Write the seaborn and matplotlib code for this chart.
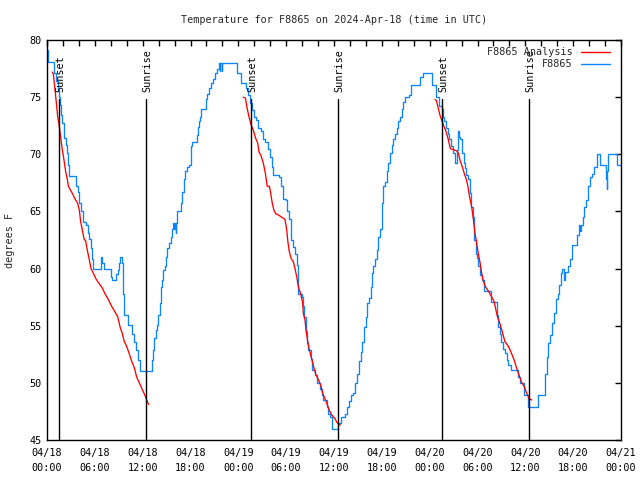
import matplotlib
matplotlib.use("Agg")
import matplotlib.pyplot as plt
import matplotlib.dates as mdates
import matplotlib.transforms as mtransforms
import seaborn as sns
import pandas as pd
import numpy as np

# ---------------- data (hours after 2024-04-18 00:00 UTC) ----------------
title = "Temperature for F8865 on 2024-Apr-18 (time in UTC)"
ylabel = "degrees F"
obs_label = "F8865"
ana_label = "F8865 Analysis"

obs_hours = [0.15, 0.17, 0.85, 0.92, 1.13, 1.38, 1.50, 1.63, 1.76, 1.92, 2.13, 2.34, 2.55, 2.68, 2.80,
             3.64, 3.93, 4.06, 4.27, 4.56, 4.85, 5.10, 5.31, 5.48, 5.60, 5.81, 6.77, 6.94, 7.15, 7.99,
             8.20, 8.70, 8.87, 9.00, 9.16, 9.37, 9.58, 9.70, 10.2, 10.7, 10.96, 11.12, 11.46, 11.67,
             13.2, 13.34, 13.47, 13.63, 13.76, 13.97, 14.17, 14.30, 14.47, 14.59, 14.76, 14.93, 15.10,
             15.30, 15.51, 15.72, 15.84, 15.97, 16.05, 16.14, 16.22, 16.35, 16.77, 16.97, 17.14, 17.35,
             17.52, 17.85, 18.02, 18.14, 18.77, 18.90, 19.07, 19.19, 19.36, 19.95, 20.11, 20.28, 20.53,
             20.78, 21.07, 21.36, 21.57, 21.65, 21.75, 21.90, 22.0, 23.85, 24.3, 24.96, 25.17, 25.46,
             25.76, 26.0, 26.22, 26.51, 26.80, 27.05, 27.34, 27.76, 27.97, 28.18, 28.39, 29.10, 29.31,
             29.65, 29.94, 30.15, 30.40, 30.61, 30.90, 31.11, 31.40, 31.53, 31.94, 32.15, 32.28, 32.45,
             32.57, 32.78, 33.12, 33.28, 33.61, 33.82, 34.24, 34.45, 34.66, 35.08, 35.3, 35.5, 35.8,
             36.55, 36.9, 37.09, 37.38, 37.59, 37.88, 38.09, 38.43, 38.63, 38.84, 39.14, 39.35, 39.55,
             39.76, 40.02, 40.18, 40.39, 40.60, 40.73, 40.93, 41.14, 41.35, 41.56, 41.77, 41.98, 42.06,
             42.19, 42.40, 42.61, 42.82, 43.03, 43.24, 43.45, 43.67, 43.87, 44.08, 44.29, 44.50, 44.70,
             44.91, 45.46, 45.62, 46.8, 47.21, 48.3, 48.75, 49.17, 49.5, 49.63, 49.84, 50.0, 50.26,
             50.46, 50.68, 50.89, 51.18, 51.39, 51.55, 51.65, 51.8, 52.0, 52.3, 52.4, 52.6, 52.8, 53.0,
             53.2, 53.4, 53.6, 53.76, 53.97, 54.1, 54.3, 54.6, 54.86, 55.7, 56.4, 56.6, 56.8, 57.0,
             57.24, 57.45, 57.66, 57.87, 58.2, 59.04, 59.33, 59.84, 60.38, 61.63, 62.47, 62.7, 62.9,
             63.1, 63.4, 63.6, 63.85, 64.06, 64.27, 64.44, 64.64, 64.85, 64.95, 65.4, 65.6, 65.81,
             66.5, 66.7, 66.85, 66.95, 67.2, 67.4, 67.6, 67.9, 68.1, 68.4, 68.6, 68.95, 69.4, 70.1,
             70.2, 70.3, 70.4, 71.45, 72.0]
obs_temp = [79.1, 78.1, 77.3, 77.1, 76.4, 75.6, 75.0, 74.3, 73.4, 72.7, 71.4, 70.8, 70.1, 69.1, 68.1,
            67.2, 66.7, 65.7, 65.0, 64.1, 63.8, 63.1, 62.6, 61.8, 60.8, 60.0, 61.0, 60.5, 60.0, 59.3,
            59.0, 59.5, 59.9, 60.5, 61.0, 60.5, 57.8, 55.9, 55.1, 54.3, 53.6, 52.9, 52.0, 51.0,
            52.0, 52.9, 53.9, 54.6, 55.1, 55.9, 57.0, 58.4, 59.0, 59.9, 60.2, 61.0, 61.8,
            62.2, 62.8, 63.5, 64.0, 63.5, 64.0, 63.1, 64.0, 65.0, 65.7, 66.7, 67.8, 68.5,
            68.9, 69.1, 70.7, 71.1, 71.7, 72.4, 72.9, 73.3, 74.0, 74.8, 75.3, 75.8, 76.2,
            76.6, 77.1, 77.5, 78.0, 77.3, 78.0, 77.3, 78.0, 77.1, 76.2, 75.8, 75.2, 74.5,
            73.9, 73.3, 73.0, 72.3, 72.0, 71.3, 71.1, 70.5, 69.8, 68.9, 68.2, 68.0, 67.2,
            66.1, 66.0, 65.0, 64.3, 62.5, 61.9, 61.3, 60.3, 57.8, 57.5, 56.7, 55.8, 54.5,
            53.5, 52.9, 52.1, 51.1, 50.7, 50.0, 49.5, 48.9, 48.5, 47.9, 47.3, 47.0, 46.0,
            46.5, 47.0, 47.0, 47.3, 47.9, 48.4, 48.9, 49.1, 50.0, 50.8, 51.9, 52.7, 53.6,
            54.9, 55.8, 57.0, 57.4, 58.4, 59.6, 60.2, 60.8, 61.6, 62.8, 63.5, 64.5, 65.7,
            67.2, 67.6, 68.5, 69.2, 70.1, 70.8, 71.3, 71.8, 72.3, 72.9, 73.3, 74.0, 74.6,
            75.0, 75.2, 76.1, 76.8, 77.1, 76.1, 75.0, 74.2, 74.0, 73.3, 72.9, 72.3, 71.8,
            71.3, 70.7, 70.1, 69.2, 70.4, 72.0, 71.5, 71.3, 70.1, 69.2, 68.8, 68.2, 67.8, 66.6,
            65.4, 64.5, 62.5, 61.3, 60.9, 60.2, 59.4, 59.0, 58.0, 57.1, 55.9, 54.9, 54.3, 53.6,
            53.0, 52.6, 52.0, 51.6, 51.1, 50.5, 50.0, 48.9, 47.9, 48.9, 50.8, 52.3, 53.5,
            54.2, 55.2, 56.1, 57.3, 57.8, 58.6, 59.6, 60.0, 59.0, 59.7, 60.2, 60.8, 62.1,
            62.9, 63.8, 63.3, 63.8, 64.5, 65.4, 66.0, 67.2, 68.0, 68.3, 68.9, 70.0, 69.1, 67.8,
            67.0, 68.5, 70.0, 69.1, 69.1]

ana1_hours = [0.67, 0.8, 0.92, 1.13, 1.34, 1.51, 1.71, 1.92, 2.13, 2.34, 2.55, 2.68, 3.09, 3.51, 3.85,
              4.06, 4.22, 4.43, 4.64, 4.85, 5.06, 5.27, 5.52, 5.81, 6.14, 6.52, 6.94, 7.27, 7.69, 8.11,
              8.53, 8.87, 9.16, 9.45, 9.70, 9.99, 10.29, 10.62, 10.96, 11.25, 11.58, 11.96, 12.29,
              12.5, 12.75]
ana1_temp = [77.2, 77.0, 76.2, 74.8, 73.3, 72.6, 71.5, 70.4, 69.5, 68.5, 67.8, 67.2, 66.7, 66.1, 65.7,
             65.1, 64.1, 63.4, 62.6, 62.4, 61.6, 60.9, 60.0, 59.6, 59.1, 58.7, 58.3, 57.8, 57.3, 56.7,
             56.2, 55.8, 54.9, 54.3, 53.6, 53.2, 52.6, 51.9, 51.3, 50.5, 50.0, 49.4, 48.9,
             48.5, 48.1]
ana2_hours = [24.63, 24.9, 25.05, 25.33, 25.59, 25.88, 26.17, 26.43, 26.59, 26.84, 27.14, 27.35, 27.63,
              27.9, 28.06, 28.26, 28.47, 28.68, 29.0, 29.44, 29.85, 30.07, 30.19, 30.36, 30.61, 30.90,
              31.11, 31.32, 31.53, 31.82, 32.07, 32.15, 32.36, 32.49, 32.78, 32.99, 33.2, 33.49, 33.74,
              34.03, 34.33, 34.58, 34.87, 35.16, 35.41, 35.71, 36.1, 36.4, 36.8]
ana2_temp = [75.0, 74.9, 74.2, 73.3, 72.6, 72.1, 71.4, 71.0, 70.2, 69.9, 69.2, 68.5, 67.2,
             67.2, 66.6, 65.7, 65.1, 64.8, 64.7, 64.5, 64.3, 63.4, 62.5, 61.6, 60.9, 60.6,
             60.0, 59.3, 58.4, 57.8, 57.0, 56.1, 55.5, 54.6, 53.3, 52.7, 52.1, 51.3, 50.7,
             50.3, 49.8, 49.1, 48.6, 48.1, 47.6, 47.2, 46.9, 46.5, 46.3]
ana3_hours = [48.67, 48.85, 49.09, 49.3, 49.5, 49.7, 50.0, 50.26, 50.43, 50.6, 50.97, 51.39, 51.6, 51.8,
              52.1, 52.35, 52.6, 52.8, 53.0, 53.27, 53.48, 53.69, 53.9, 54.1, 54.3, 54.5, 54.7, 55.0,
              55.4, 55.8, 56.1, 56.3, 56.5, 56.8, 57.1, 57.44, 57.78, 58.07, 58.37, 58.6, 58.9, 59.2,
              59.5, 59.84, 60.17, 60.5, 60.8]
ana3_temp = [74.8, 74.7, 74.0, 73.4, 73.0, 72.6, 72.1, 71.5, 71.0, 70.5, 70.4, 70.3, 70.1, 69.5,
             68.9, 68.3, 67.8, 67.2, 66.3, 65.4, 64.3, 63.1, 62.2, 61.3, 60.6, 59.7, 59.0, 58.4,
             58.0, 57.5, 57.1, 56.4, 55.8, 55.2, 54.5, 53.6, 53.3, 52.9, 52.4, 52.0, 51.3, 50.7,
             50.1, 49.7, 49.1, 48.6, 48.5]

sunset_hours = [1.55, 25.6, 49.6]
sunrise_hours = [12.46, 36.55, 60.5]

start = pd.Timestamp("2024-04-18 00:00")
end = pd.Timestamp("2024-04-21 00:00")
ylim = (45, 80)
yticks = [45, 50, 55, 60, 65, 70, 75, 80]


def to_time(hours):
    return start + pd.to_timedelta(np.asarray(hours, dtype=float), unit="h")


obs_df = pd.DataFrame({"time": to_time(obs_hours), "temp": obs_temp})
ana_segments = [(ana1_hours, ana1_temp), (ana2_hours, ana2_temp), (ana3_hours, ana3_temp)]

# ---------------- style ----------------
sns.set_theme(style="white")
plt.rcParams["font.family"] = ["DejaVu Sans Mono", "DejaVu Sans"]
FS = 7.3

fig = plt.figure(figsize=(6.4, 4.8), dpi=100)
ax = fig.add_axes([47 / 640, 1 - 440 / 480, 574 / 640, 400 / 480])

RED = "#ff0000"
BLUE = "#0a84ff"

sns.lineplot(data=obs_df, x="time", y="temp", estimator=None, sort=False,
             drawstyle="steps-post", color=BLUE, lw=0.95, ax=ax, label="_nolegend_")
for h, t in ana_segments:
    seg = pd.DataFrame({"time": to_time(h), "temp": t})
    sns.lineplot(data=seg, x="time", y="temp", estimator=None, sort=False,
                 color=RED, lw=0.95, ax=ax, label="_nolegend_")

# sunrise / sunset markers
trans = mtransforms.blended_transform_factory(ax.transData, ax.transAxes)
offset = mtransforms.ScaledTranslation(1 / 100, 0, fig.dpi_scale_trans)
for hrs, name in [(sunset_hours, "Sunset"), (sunrise_hours, "Sunrise")]:
    for t in to_time(hrs):
        ax.axvline(t, ymin=0, ymax=0.853, color="black", lw=1.0)
        ax.text(t, 0.87, name, rotation=90, ha="center", va="bottom",
                fontsize=FS, transform=trans + offset, color="black")

ax.set_xlim(start, end)
ax.set_ylim(*ylim)
ax.set_yticks(yticks)
ax.xaxis.set_major_locator(mdates.HourLocator(byhour=[0, 6, 12, 18]))
ax.xaxis.set_minor_locator(mdates.HourLocator(byhour=range(0, 24, 2)))
ax.xaxis.set_major_formatter(mdates.DateFormatter("%m/%d\n%H:%M"))
ax.tick_params(axis="both", which="both", direction="in", top=True, right=True,
               length=4, width=1, color="black", labelsize=FS, labelcolor="black", pad=6)
ax.tick_params(axis="y", pad=4)
for sp in ax.spines.values():
    sp.set_visible(True)
    sp.set_color("black")
    sp.set_linewidth(1.0)
ax.set_xlabel("")
ax.set_ylabel("")
plt.setp(ax.get_xticklabels(), linespacing=1.55)

fig.text(334 / 640, 1 - 20 / 480, title, ha="center", va="center", fontsize=FS)
fig.text(10 / 640, 0.5, ylabel, rotation=90, ha="center", va="center", fontsize=FS)

handles = [plt.Line2D([], [], color=RED, lw=1.0), plt.Line2D([], [], color=BLUE, lw=1.0)]
leg = ax.legend(handles, [ana_label, obs_label], loc="upper right", frameon=False,
                markerfirst=False, fontsize=FS, handlelength=2.9, handletextpad=0.8,
                labelspacing=0.2, borderaxespad=0.3, bbox_to_anchor=(0.994, 1.0))
for txt in leg.get_texts():
    txt.set_ha("right")

fig.savefig("out.png", dpi=100)
